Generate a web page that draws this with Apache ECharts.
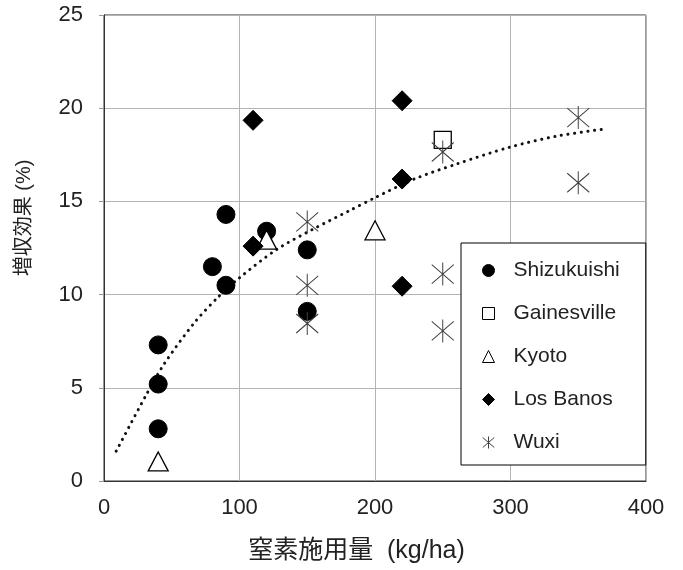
<!DOCTYPE html>
<html>
<head>
<meta charset="utf-8">
<script src="https://cdn.jsdelivr.net/npm/echarts@6/dist/echarts.min.js"></script>
<style>
  html, body { margin: 0; padding: 0; background: #fff; }
  #chart { width: 683px; height: 570px; }
</style>
</head>
<body>
<div id="chart"></div>
<script>
// 各地点のデータ [窒素施用量, 増収効果]
var shizukuishi = [[40, 7.3], [40, 5.2], [40, 2.8], [80, 11.5], [90, 10.5], [90, 14.3], [120, 13.4], [150, 12.4], [150, 9.1]];
var gainesville = [[250, 18.3]];
var kyoto = [[40, 1.05], [120, 12.95], [200, 13.45]];
var losBanos = [[110, 19.35], [110, 12.6], [220, 20.4], [220, 16.2], [220, 10.45]];
var wuxi = [[150, 13.9], [150, 10.5], [150, 8.45], [250, 17.65], [250, 11.1], [250, 8.05], [350, 19.5], [350, 16.0]];
// 近似曲線（図から読み取った点）
var trend = [[9, 1.6], [31, 4.6], [44.6, 6.3], [66.8, 8.5], [84, 9.85], [100, 10.9], [127, 12.4], [154, 13.5],
             [181, 14.5], [200, 15.2], [229, 16.2], [260, 17.0], [299, 17.9], [334, 18.5], [371, 18.9]];

var xTicks = [0, 100, 200, 300, 400];
var yTicks = [0, 5, 10, 15, 20, 25];
var legendNames = ['Shizukuishi', 'Gainesville', 'Kyoto', 'Los Banos', 'Wuxi'];

var FONT = "'Liberation Sans', Arial, 'Noto Sans CJK JP', sans-serif";
var asterisk = 'path://M11,0L11,23M0,2L22,21M0,21L22,2';

var myChart = echarts.init(document.getElementById('chart'));

var option = {
    backgroundColor: '#fff',
    animation: false,
    textStyle: { fontFamily: FONT },
    grid: {
        left: 104, right: 37, top: 15, bottom: 89,
        show: true, borderColor: '#333', borderWidth: 1,
        containLabel: false
    },
    legend: {
        data: legendNames,
        orient: 'vertical',
        left: 461, top: 243,
        padding: [17, 26, 12, 21],
        itemWidth: 12, itemHeight: 12,
        itemGap: 22,
        symbolKeepAspect: true,
        backgroundColor: '#fff',
        borderColor: '#000', borderWidth: 1,
        borderRadius: 0,
        itemStyle: { borderWidth: 1 },
        textStyle: { fontFamily: FONT, fontSize: 21, color: '#222', lineHeight: 21, padding: [0, 0, 0, 14] }
    },
    xAxis: {
        type: 'value',
        min: xTicks[0], max: xTicks[xTicks.length - 1], interval: 100,
        name: '窒素施用量  (kg/ha)',
        nameLocation: 'middle', nameGap: 58,
        nameTextStyle: { fontFamily: FONT, fontSize: 25, color: '#222', padding: [0, 37, 0, 0] },
        axisLine: { show: true, lineStyle: { color: '#333', width: 1 } },
        axisTick: { show: false },
        axisLabel: { fontSize: 22, color: '#222', margin: 16, fontFamily: FONT },
        splitLine: { show: true, lineStyle: { color: '#b3b3b3', width: 1 } }
    },
    yAxis: {
        type: 'value',
        min: yTicks[0], max: yTicks[yTicks.length - 1], interval: 5,
        name: '増収効果 (%)',
        nameLocation: 'middle', nameGap: 70, nameRotate: 90,
        nameTextStyle: { fontFamily: FONT, fontSize: 20, color: '#222', padding: [0, 0, 0, 60] },
        axisLine: { show: true, lineStyle: { color: '#333', width: 1 } },
        axisTick: { show: true, inside: false, length: 5, lineStyle: { color: '#999' } },
        axisLabel: { fontSize: 22, color: '#222', margin: 21, fontFamily: FONT },
        splitLine: { show: true, lineStyle: { color: '#b3b3b3', width: 1 } }
    },
    series: [
        {
            name: 'trend',
            type: 'line',
            data: trend,
            smooth: 0.3,
            showSymbol: false,
            silent: true,
            z: 1,
            lineStyle: { color: '#111', width: 3, type: [0.1, 6.6], cap: 'round' }
        },
        {
            name: 'Shizukuishi',
            type: 'scatter',
            data: shizukuishi,
            symbol: 'circle', symbolSize: 18,
            z: 2,
            itemStyle: { color: '#000', borderColor: '#000', opacity: 1 }
        },
        {
            name: 'Gainesville',
            type: 'scatter',
            data: gainesville,
            symbol: 'rect', symbolSize: 17,
            z: 3,
            itemStyle: { color: '#fff', borderColor: '#000', borderWidth: 1.3, opacity: 1 }
        },
        {
            name: 'Kyoto',
            type: 'scatter',
            data: kyoto,
            symbol: 'triangle', symbolSize: [20, 19],
            z: 4,
            itemStyle: { color: '#fff', borderColor: '#000', borderWidth: 1.3, opacity: 1 }
        },
        {
            name: 'Los Banos',
            type: 'scatter',
            data: losBanos,
            symbol: 'diamond', symbolSize: 20,
            z: 5,
            itemStyle: { color: '#000', borderColor: '#000', opacity: 1 }
        },
        {
            name: 'Wuxi',
            type: 'scatter',
            data: wuxi,
            symbol: asterisk, symbolSize: [22, 23],
            z: 6,
            itemStyle: { color: 'rgba(0,0,0,0)', borderColor: '#404040', borderWidth: 1, opacity: 1 }
        }
    ]
};

myChart.setOption(option);
</script>
</body>
</html>
